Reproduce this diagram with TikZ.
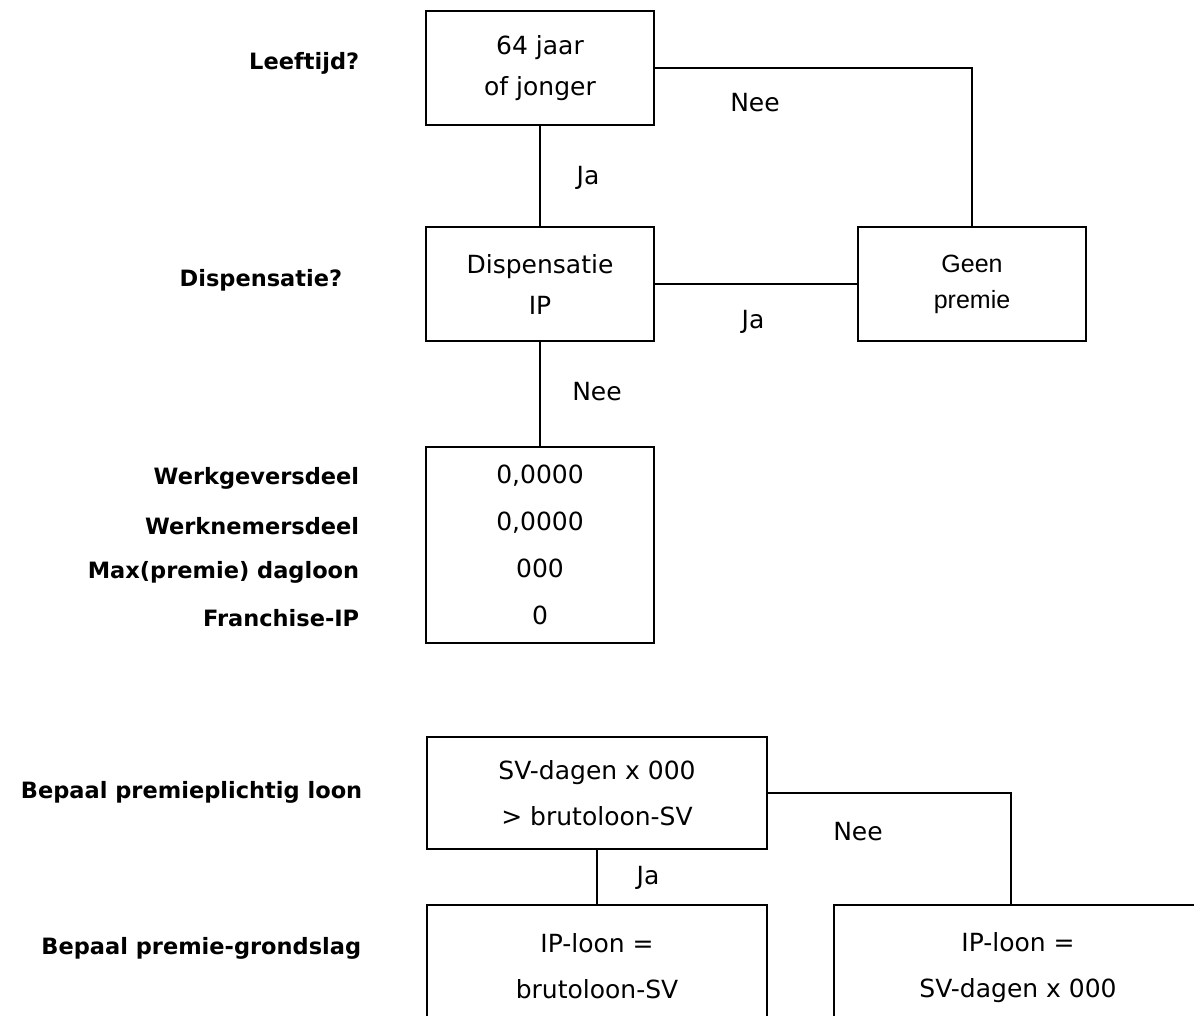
\documentclass[tikz,border=0pt]{standalone}
\usepackage{fontspec}
\setmainfont{DejaVu Sans}
\newfontfamily\geenfont{Liberation Sans}

\begin{document}
\begin{tikzpicture}[x=1pt,y=-1pt,line width=1.6pt,
    box/.style={draw,rectangle,align=center,inner sep=0pt,minimum width=228pt,
      minimum height=114pt,font=\fontsize{25}{41}\selectfont},
    wide/.style={box,minimum width=340pt,minimum height=112pt,font=\fontsize{25}{46}\selectfont},
    lbl/.style={anchor=east,inner sep=0pt,font=\fontsize{22.5}{28}\selectfont\bfseries},
    yn/.style={inner sep=0pt,font=\fontsize{25}{28}\selectfont}]
    \clip (0,0) rectangle (1194,1015);

    % upper part
    \node (age) [box] at (540,68) {64 jaar\\of jonger};
    \node (disp) [box] at (540,284) {Dispensatie\\IP};
    \node (geen) [box,font=\geenfont\fontsize{25}{36}\selectfont] at (972,284) {Geen\\premie};
    \node (tab) [box,minimum height=196pt,font=\fontsize{25}{47}\selectfont] at (540,545)
        {0,0000\\0,0000\\000\\0};

    \draw (age.east) -| (geen.north);
    \draw (age.south) -- (disp.north);
    \draw (disp.east) -- (geen.west);
    \draw (disp.south) -- (tab.north);

    \node (nee1) [yn] at (755,103) {Nee};
    \node (ja1) [yn] at (588,178) {Ja};
    \node (ja2) [yn] at (753,322) {Ja};
    \node (nee2) [yn] at (597,392) {Nee};

    \node (q1) [lbl] at (360,63) {Leeftijd?};
    \node (q2) [lbl] at (343,280) {Dispensatie?};
    \node (wg) [lbl] at (360,478) {Werkgeversdeel};
    \node (wn) [lbl] at (360,526) {Werknemersdeel};
    \node (mx) [lbl] at (360,572) {Max(premie) dagloon};
    \node (fr) [lbl] at (360,618) {Franchise-IP};

    % lower part
    \node (sv) [wide] at (597,793) {SV-dagen x 000\\> brutoloon-SV};
    \node (ipa) [wide,minimum height=122pt] at (597,966) {IP-loon =\\brutoloon-SV};
    \node (ipb) [wide,minimum width=368pt,minimum height=126pt] at (1018,968)
        {IP-loon =\\SV-dagen x 000};
    \coordinate (kink) at (1011,905);

    \draw (sv.east) -| (kink);
    \draw (sv.south) -- (ipa.north);

    \node (nee3) [yn] at (858,832) {Nee};
    \node (ja3) [yn] at (648,878) {Ja};

    \node (q3) [lbl] at (363,792) {Bepaal premieplichtig loon};
    \node (q4) [lbl] at (362,948) {Bepaal premie-grondslag};
\end{tikzpicture}
\end{document}
